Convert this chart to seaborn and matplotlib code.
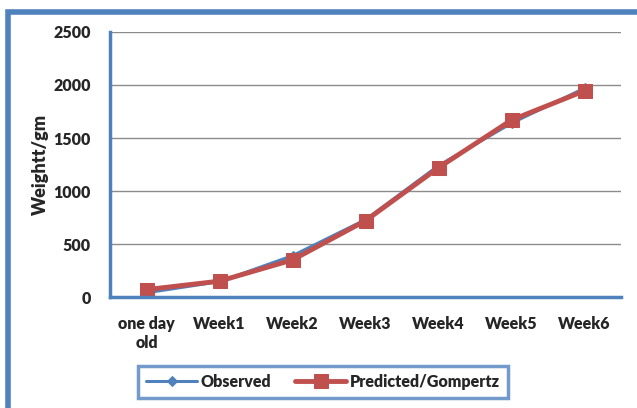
import numpy as np
import pandas as pd
import matplotlib
matplotlib.use('Agg')
import matplotlib.pyplot as plt
import seaborn as sns
from matplotlib.patches import Rectangle

ages = ['one day\nold', 'Week1', 'Week2', 'Week3', 'Week4', 'Week5', 'Week6']
observed = [40, 145, 390, 730, 1240, 1640, 1970]
predicted = [70, 150, 350, 720, 1220, 1670, 1945]

BLUE = '#4F81BD'
RED = '#C0504D'
WEIGHT = 'heavy'

sns.set_style('white')
plt.rcParams['font.family'] = ['Lato', 'DejaVu Sans']
plt.rcParams['font.weight'] = WEIGHT

df = pd.DataFrame({'age': ages * 2,
                   'weight': observed + predicted,
                   'series': ['Observed'] * len(ages) + ['Predicted/Gompertz'] * len(ages)})

fig = plt.figure(figsize=(6.37, 4.08), dpi=100)
ax = fig.add_axes([0.1727, 0.272, 0.8023, 0.6496])

sns.lineplot(data=df[df.series == 'Observed'], x='age', y='weight', sort=False,
             color=BLUE, lw=2.2, marker='D', markersize=5, markeredgecolor=BLUE,
             label='Observed', ax=ax)
sns.lineplot(data=df[df.series == 'Predicted/Gompertz'], x='age', y='weight', sort=False,
             color=RED, lw=3.5, marker='s', markersize=10, markeredgecolor=RED,
             label='Predicted/Gompertz', ax=ax)

ax.set_xlim(-0.5, len(ages) - 0.5)
ax.set_ylim(0, 2500)
ax.set_yticks(np.arange(0, 2501, 500))
ax.yaxis.grid(True, color='#8c8c8c', lw=1)
ax.set_axisbelow(True)
for s in ['top', 'right']:
    ax.spines[s].set_visible(False)
for s in ['left', 'bottom']:
    ax.spines[s].set_color(BLUE)
    ax.spines[s].set_linewidth(2.5)

ax.set_xticks(range(len(ages)))
ax.set_xticklabels(ages, fontsize=11.5, fontweight=WEIGHT)
ax.set_xticks(np.arange(-0.5, len(ages), 1), minor=True)
ax.tick_params(axis='x', which='major', length=0, pad=14)
ax.tick_params(axis='x', which='minor', direction='in', length=5, width=2.5, color=BLUE)
ax.tick_params(axis='y', direction='in', length=5, width=2.5, color=BLUE, pad=14, labelsize=11.5)
for t in ax.get_yticklabels():
    t.set_fontweight(WEIGHT)
ax.set_xlabel('')
ax.set_ylabel('Weightt/gm', fontsize=13, fontweight=WEIGHT, labelpad=3)

leg = ax.legend(loc='center', bbox_to_anchor=(0.507, 0.064), bbox_transform=fig.transFigure,
                ncol=2, frameon=True, fancybox=False, handlelength=3.2,
                columnspacing=1.5, handletextpad=0.2, borderpad=0.5,
                prop={'weight': WEIGHT, 'size': 11.5})
leg.get_frame().set_edgecolor(BLUE)
leg.get_frame().set_linewidth(2.5)

# outer chart frame
fig.patches.append(Rectangle((0.0126, -0.05), 1.1, 0.971 + 0.05, transform=fig.transFigure,
                             fill=False, edgecolor=BLUE, lw=4, clip_on=False))

fig.savefig('out.png', dpi=100)
